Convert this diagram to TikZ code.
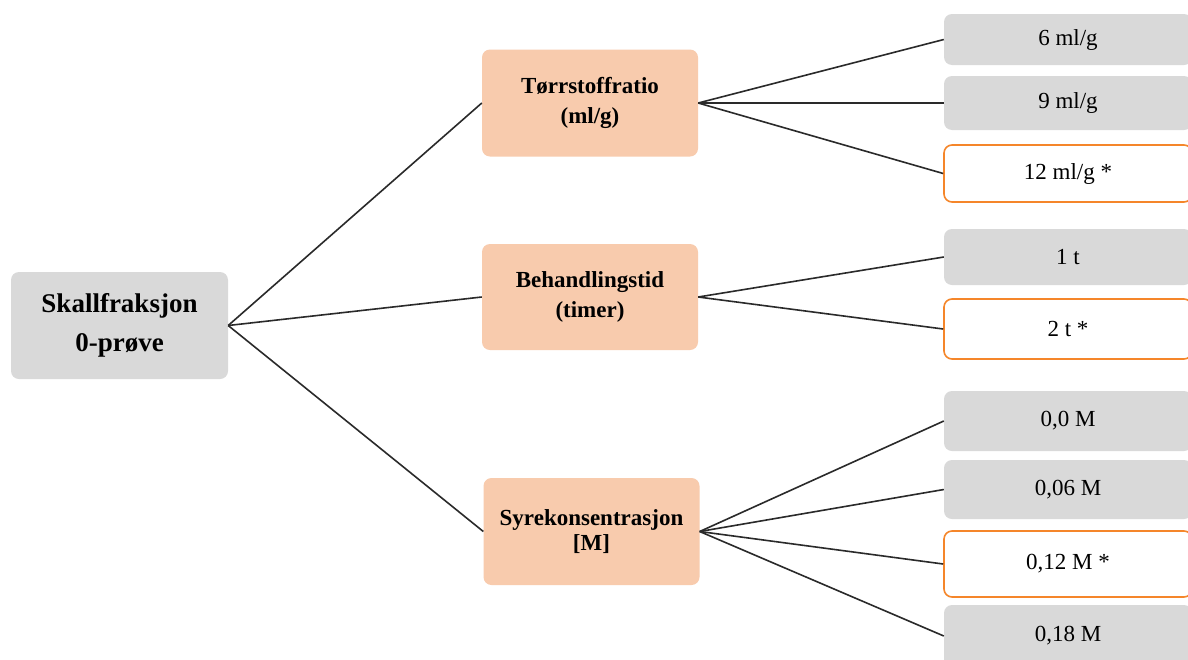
\documentclass[tikz,border=0pt]{standalone}
\usepackage{fontspec}
\setmainfont{Liberation Serif}
\definecolor{boxgray}{HTML}{D9D9D9}
\definecolor{salmon}{HTML}{F8CBAD}
\definecolor{pick}{HTML}{F5862A}
\definecolor{linegray}{HTML}{2A2A2A}
\begin{document}
\begin{tikzpicture}[x=1pt, y=-1pt,
    box/.style={rounded corners=8pt, align=center, inner sep=0pt},
    root/.style={box, fill=boxgray, minimum width=217pt, minimum height=107pt,
                 font=\bfseries\fontsize{27}{39}\selectfont},
    param/.style={box, fill=salmon, minimum width=216pt, minimum height=107pt,
                  font=\bfseries\fontsize{23}{30}\selectfont},
    leaf/.style={box, fill=boxgray, minimum width=248pt, font=\fontsize{23}{28}\selectfont},
    chosen/.style={leaf, fill=white, draw=pick, line width=1.6pt}]
  \useasboundingbox[fill=white] (0,0) rectangle (1188,659);

  \node[root] (root) at (119.5,325.5) {Skallfraksjon\\0-prøve};

  \node[param] (ratio) at (590,103) {Tørrstoffratio\\(ml/g)};
  \node[param, minimum height=106pt] (time) at (590,297) {Behandlingstid\\(timer)};
  \node[param, font=\bfseries\fontsize{23}{25}\selectfont] (acid) at (591.5,531.5)
       {Syrekonsentrasjon\\{[M]}};

  \node[leaf, minimum height=51pt] (ml6) at (1068,39.5) {6 ml/g};
  \node[leaf, minimum height=54pt] (ml9) at (1068,103) {9 ml/g};
  \node[chosen, minimum height=57pt] (ml12) at (1068,173.5) {12 ml/g *};
  \node[leaf, minimum height=56pt] (t1) at (1068,257) {1 t};
  \node[chosen, minimum height=60pt] (t2) at (1068,329) {2 t *};
  \node[leaf, minimum height=60pt] (m0) at (1068,421) {0,0 M};
  \node[leaf, minimum height=59pt] (m06) at (1068,489.5) {0,06 M};
  \node[chosen, minimum height=66pt] (m12) at (1068,564) {0,12 M *};
  \node[leaf, minimum height=62pt] (m18) at (1068,636) {0,18 M};

  \foreach \a/\b in {root/ratio, root/time, root/acid,
                     ratio/ml6, ratio/ml9, ratio/ml12,
                     time/t1, time/t2,
                     acid/m0, acid/m06, acid/m12, acid/m18}{
    \draw[linegray, line width=1.6pt] (\a.east) -- (\b.west);
  }
\end{tikzpicture}
\end{document}
